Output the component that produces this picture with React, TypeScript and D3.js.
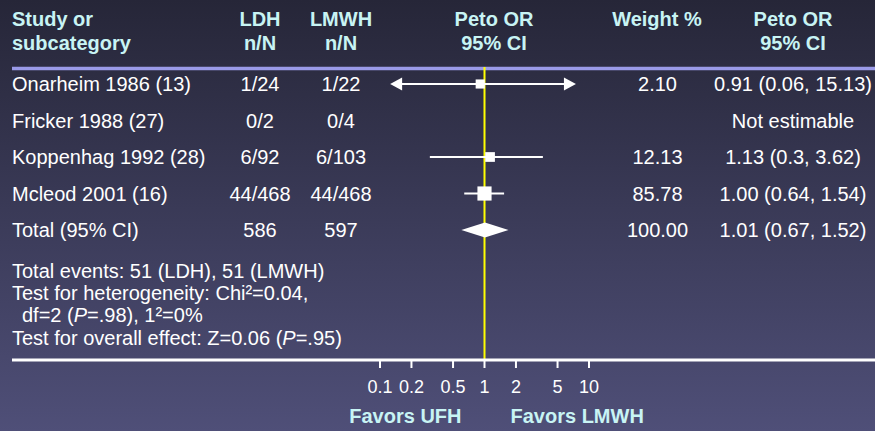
import React from "react";
import * as d3 from "d3";

const studies = ["Onarheim 1986 (13)", "Fricker 1988 (27)", "Koppenhag 1992 (28)", "Mcleod 2001 (16)", "Total (95% CI)"];
const ldh = ["1/24", "0/2", "6/92", "44/468", "586"];
const lmwh = ["1/22", "0/4", "6/103", "44/468", "597"];
const orValues: (number | null)[] = [0.91, null, 1.13, 1.0, 1.01];
const ciLow: (number | null)[] = [0.06, null, 0.3, 0.64, 0.67];
const ciHigh: (number | null)[] = [15.13, null, 3.62, 1.54, 1.52];
const weights: (number | null)[] = [2.1, null, 12.13, 85.78, 100.0];
const weightLabels = ["2.10", "", "12.13", "85.78", "100.00"];
const ciLabels = ["0.91 (0.06, 15.13)", "Not estimable", "1.13 (0.3, 3.62)", "1.00 (0.64, 1.54)", "1.01 (0.67, 1.52)"];
const tickValues = [0.1, 0.2, 0.5, 1, 2, 5, 10];
const plotLimits = [0.125, 7.5];
const footerLines = [
  "Total events: 51 (LDH), 51 (LMWH)",
  "Test for heterogeneity: Chi²=0.04,",
  "df=2 (P=.98), 1²=0%",
  "Test for overall effect: Z=0.06 (P=.95)",
];
const footerIndent = [0, 0, 10, 0];

const W = 875;
const H = 431;
const FONT = "'Liberation Sans', Arial, Helvetica, sans-serif";
const HEAD = "#c8f4f4";
const TXT = "#ffffff";

function renderFooter(line: string) {
  const parts = line.split(/(\(P=)/);
  const out: React.ReactNode[] = [];
  parts.forEach((p, i) => {
    if (p === "(P=") {
      out.push(<tspan key={i + "a"}>(</tspan>);
      out.push(<tspan key={i + "b"} fontStyle="italic">P</tspan>);
      out.push(<tspan key={i + "c"}>=</tspan>);
    } else out.push(<tspan key={i}>{p}</tspan>);
  });
  return out;
}

export default function App() {
  const x = d3.scaleLog().domain([0.1, 10]).range([380, 589]);
  const rowY = d3.scalePoint<number>().domain(studies.map((_, i) => i)).range([91, 237]);
  const size = d3.scaleLinear().domain([0, 100]).range([9, 15]).clamp(true);
  const footY = d3.scalePoint<number>().domain(footerLines.map((_, i) => i)).range([277.5, 344.5]);
  const x1 = x(1);
  const axisY = 360;

  return (
    <svg width={W} height={H} style={{ position: "absolute", left: 0, top: 0 }} fontFamily={FONT}>
      <defs>
        <linearGradient id="bg" x1="0" y1="0" x2="0" y2="1">
          <stop offset="0" stopColor="#262638" />
          <stop offset="1" stopColor="#4f4f78" />
        </linearGradient>
      </defs>
      <rect width={W} height={H} fill="url(#bg)" />

      <g fontWeight="bold" fontSize={20} fill={HEAD}>
        <text x={12} y={26}>Study or</text>
        <text x={12} y={50}>subcategory</text>
        <text x={260} y={26} textAnchor="middle">LDH</text>
        <text x={260} y={50} textAnchor="middle">n/N</text>
        <text x={341} y={26} textAnchor="middle">LMWH</text>
        <text x={341} y={50} textAnchor="middle">n/N</text>
        <text x={494} y={26} textAnchor="middle">Peto OR</text>
        <text x={494} y={50} textAnchor="middle">95% CI</text>
        <text x={657} y={26} textAnchor="middle">Weight %</text>
        <text x={793} y={26} textAnchor="middle">Peto OR</text>
        <text x={793} y={50} textAnchor="middle">95% CI</text>
      </g>
      <line x1={12} x2={W} y1={68.5} y2={68.5} stroke="#9a9ae8" strokeWidth={3.5} />

      <line x1={x1} x2={x1} y1={67} y2={axisY} stroke="#ffff00" strokeWidth={2} />

      <g fontSize={20} fill={TXT}>
        {studies.map((s, i) => (
          <g key={s}>
            <text x={12} y={rowY(i)}>{s}</text>
            <text x={260} y={rowY(i)} textAnchor="middle">{ldh[i]}</text>
            <text x={341} y={rowY(i)} textAnchor="middle">{lmwh[i]}</text>
            <text x={657.5} y={rowY(i)} textAnchor="middle">{weightLabels[i]}</text>
            <text x={793} y={rowY(i)} textAnchor="middle">{ciLabels[i]}</text>
          </g>
        ))}
      </g>

      {studies.map((s, i) => {
        const or = orValues[i];
        const lo = ciLow[i];
        const hi = ciHigh[i];
        const w = weights[i];
        if (or == null || lo == null || hi == null || w == null) return null;
        const cy = (rowY(i) as number) - 7;
        const isTotal = i === studies.length - 1;
        if (isTotal) {
          const pts = [
            [x(lo) - 5, cy],
            [x(or), cy - 7.5],
            [x(hi) + 5, cy],
            [x(or), cy + 7.5],
          ];
          return <polygon key={s} points={pts.map((p) => p.join(",")).join(" ")} fill="#ffffff" />;
        }
        const lc = Math.max(lo, plotLimits[0]);
        const hc = Math.min(hi, plotLimits[1]);
        const xl = x(lc);
        const xh = x(hc);
        const leftArrow = lo < plotLimits[0];
        const rightArrow = hi > plotLimits[1];
        const s2 = size(w);
        return (
          <g key={s}>
            <line
              x1={leftArrow ? xl + 10 : xl}
              x2={rightArrow ? xh - 10 : xh}
              y1={cy}
              y2={cy}
              stroke="#ffffff"
              strokeWidth={2}
            />
            {leftArrow && <polygon points={`${xl},${cy} ${xl + 12},${cy - 6.5} ${xl + 12},${cy + 6.5}`} fill="#fff" />}
            {rightArrow && <polygon points={`${xh},${cy} ${xh - 12},${cy - 6.5} ${xh - 12},${cy + 6.5}`} fill="#fff" />}
            <rect x={x(or) - s2 / 2} y={cy - s2 / 2} width={s2} height={s2} fill="#ffffff" />
          </g>
        );
      })}

      <g fontSize={20} fill={TXT}>
        {footerLines.map((l, i) => (
          <text key={i} x={12 + footerIndent[i]} y={footY(i)}>
            {renderFooter(l)}
          </text>
        ))}
      </g>

      <line x1={12} x2={W} y1={axisY} y2={axisY} stroke="#ffffff" strokeWidth={3} />
      <g fontSize={18} fill={TXT}>
        {tickValues.map((t) => (
          <g key={t}>
            <line x1={x(t)} x2={x(t)} y1={axisY} y2={axisY + 8} stroke="#ffffff" strokeWidth={2} />
            <text x={x(t)} y={393} textAnchor="middle">{String(t)}</text>
          </g>
        ))}
      </g>
      <g fontSize={20} fontWeight="bold" fill={HEAD}>
        <text x={x1 - 23} y={423} textAnchor="end">Favors UFH</text>
        <text x={x1 + 26} y={423}>Favors LMWH</text>
      </g>
    </svg>
  );
}
